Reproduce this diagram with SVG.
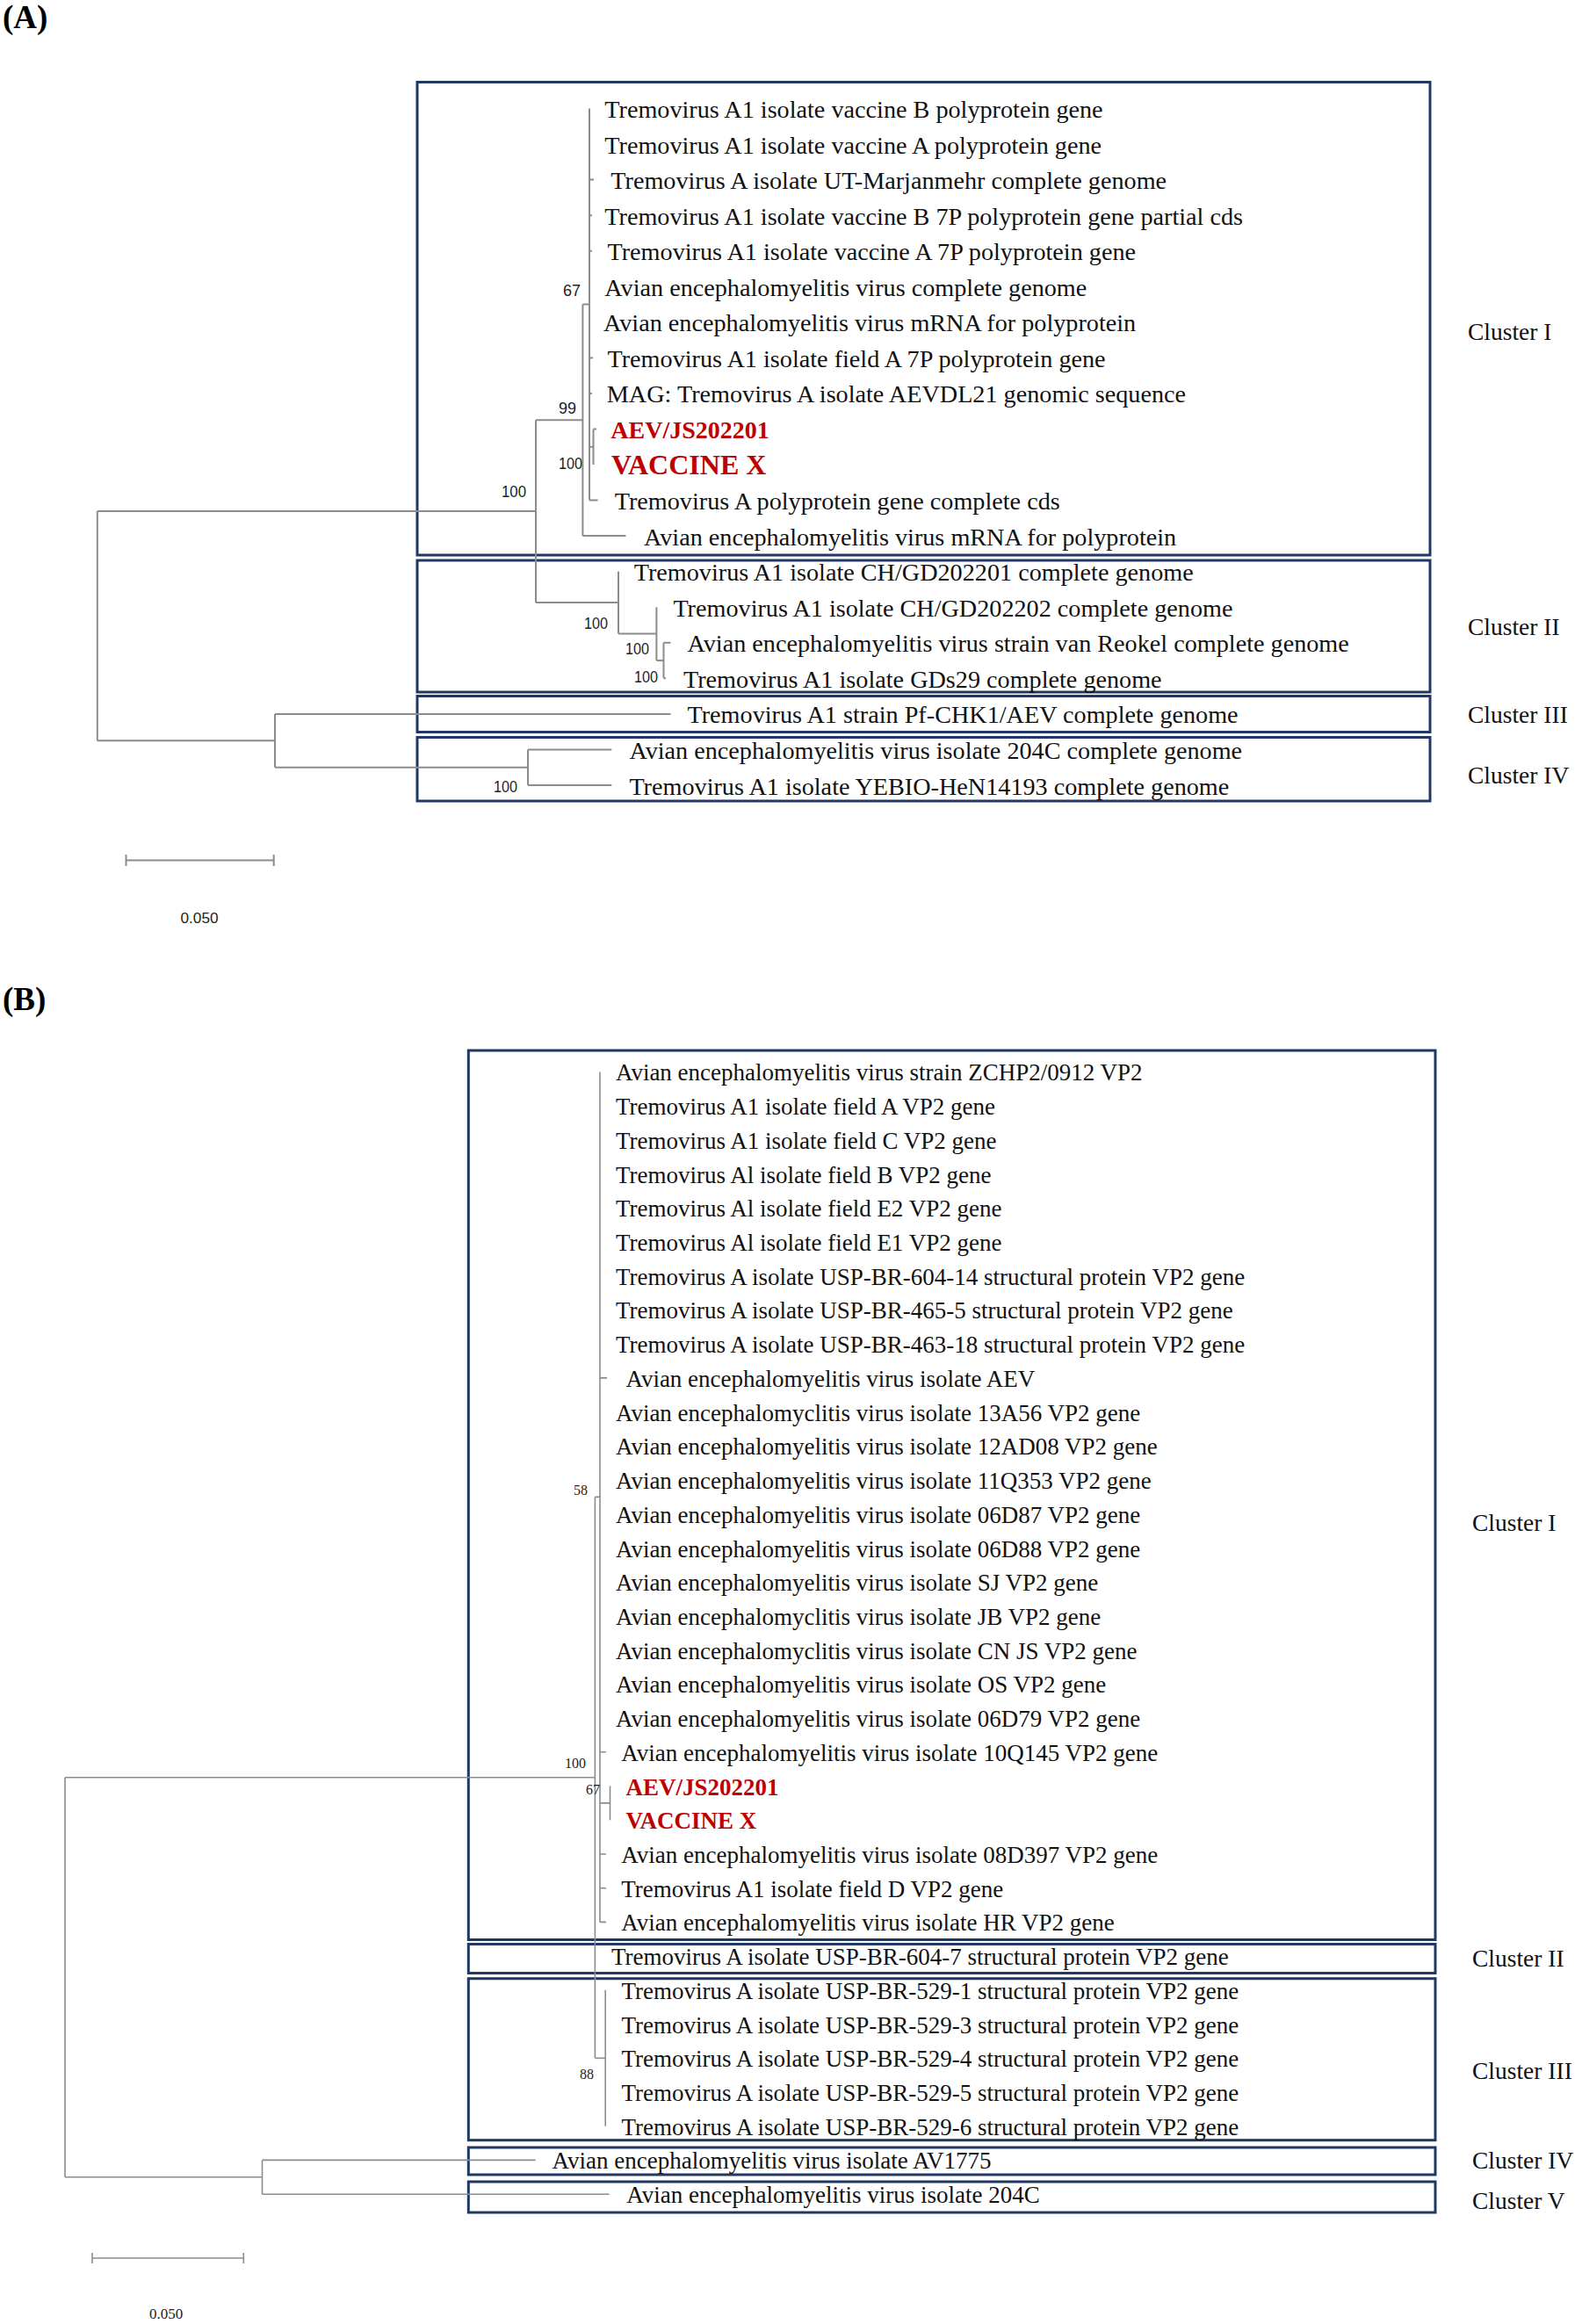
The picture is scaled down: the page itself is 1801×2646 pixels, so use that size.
<svg xmlns="http://www.w3.org/2000/svg" width="1801" height="2646" viewBox="0 0 1801 2646">
<style>
.bg{fill:#ffffff}
.panel{font-family:"Liberation Serif","Times New Roman",serif;font-weight:bold;font-size:37px;fill:#000}
.la{font-family:"Liberation Serif","Times New Roman",serif;font-size:28.2px;fill:#111}
.lb{font-family:"Liberation Serif","Times New Roman",serif;font-size:27px;fill:#111}
.reda{font-family:"Liberation Serif","Times New Roman",serif;font-weight:bold;font-size:28px;fill:#c00000}
.redv{font-family:"Liberation Serif","Times New Roman",serif;font-weight:bold;font-size:32px;fill:#c00000}
.redb{font-family:"Liberation Serif","Times New Roman",serif;font-weight:bold;font-size:27px;fill:#c00000}
.bsa{font-family:"Liberation Sans",Arial,sans-serif;font-size:18px;fill:#222}
.bsb{font-family:"Liberation Serif","Times New Roman",serif;font-size:16px;fill:#222}
.cl{font-family:"Liberation Serif","Times New Roman",serif;font-size:27.5px;fill:#111}
.box{fill:none;stroke:#1f3864;stroke-width:3}
.ta{fill:none;stroke:#8c8c8c;stroke-width:2}
.tb{fill:none;stroke:#8c8c8c;stroke-width:1.6}
.sc{font-family:"Liberation Sans",Arial,sans-serif;font-size:17px;fill:#222}
.scb{font-family:"Liberation Serif","Times New Roman",serif;font-size:17px;fill:#222}
</style>
<rect class="bg" x="0" y="0" width="1801" height="2646"/>

<g id="panel-labels">
<text class="panel" x="3" y="32">(A)</text>
<text class="panel" x="3" y="1150">(B)</text>
</g>

<!-- ================= PANEL A ================= -->
<g id="A-boxes">
<rect id="A-box-cluster-I" class="box" x="475" y="93.5" width="1153" height="538.5"/>
<rect id="A-box-cluster-II" class="box" x="475" y="638" width="1153" height="150"/>
<rect id="A-box-cluster-III" class="box" x="475" y="792.5" width="1153" height="41"/>
<rect id="A-box-cluster-IV" class="box" x="475" y="839.5" width="1153" height="72.5"/>
</g>

<g id="A-connectors">
<path class="ta" d="M110.8,582 V843.3 M110.8,582 H610 M110.8,843.3 H313"/>
<path class="ta" d="M610,478.3 V686 M610,478.3 H663.4 M610,686 H704"/>
<path class="ta" d="M663.4,346.5 V610.1 M663.4,346.5 H671 M663.4,610.1 H712.5"/>
<path class="ta" d="M671,123.5 V569.5 M671,204.6 H676 M671,245.2 H674 M671,285.7 H674 M671,407.4 H675 M671,447.9 H674 M671,569.5 H680.6"/>
<path class="ta" d="M671,508.8 H675.5 M675.5,488.5 V529 M675.5,488.5 H679"/>
<path class="ta" d="M704,650.7 V721.6 M704,721.6 H747.4"/>
<path class="ta" d="M747.4,691.2 V752 M747.4,752 H755.5"/>
<path class="ta" d="M755.5,731.8 V772.3 M755.5,731.8 H763.5 M755.5,772.3 H758"/>
<path class="ta" d="M313,812.9 V873.7 M313,812.9 H763.5 M313,873.7 H601"/>
<path class="ta" d="M601,853.4 V894 M601,853.4 H696.3 M601,894 H696.3"/>
</g>

<g id="A-bootstrap">
<text class="bsa" x="641" y="337">67</text>
<text class="bsa" x="636" y="471">99</text>
<text class="bsa" x="636" y="534" textLength="27" lengthAdjust="spacingAndGlyphs">100</text>
<text class="bsa" x="571" y="566" textLength="28" lengthAdjust="spacingAndGlyphs">100</text>
<text class="bsa" x="665" y="716" textLength="27" lengthAdjust="spacingAndGlyphs">100</text>
<text class="bsa" x="712" y="744.5" textLength="27" lengthAdjust="spacingAndGlyphs">100</text>
<text class="bsa" x="722" y="776.5" textLength="27" lengthAdjust="spacingAndGlyphs">100</text>
<text class="bsa" x="562" y="902" textLength="27" lengthAdjust="spacingAndGlyphs">100</text>
</g>

<g id="A-leaves">
<g id="A-leaf-01"><text class="la" x="688.3" y="134">Tremovirus A1 isolate vaccine B polyprotein gene</text></g>
<g id="A-leaf-02"><text class="la" x="688.3" y="174.6">Tremovirus A1 isolate vaccine A polyprotein gene</text></g>
<g id="A-leaf-03"><text class="la" x="695.3" y="215.1">Tremovirus A isolate UT-Marjanmehr complete genome</text></g>
<g id="A-leaf-04"><text class="la" x="688.3" y="255.7">Tremovirus A1 isolate vaccine B 7P polyprotein gene partial cds</text></g>
<g id="A-leaf-05"><text class="la" x="691.5" y="296.2">Tremovirus A1 isolate vaccine A 7P polyprotein gene</text></g>
<g id="A-leaf-06"><text class="la" x="688.3" y="336.8">Avian encephalomyelitis virus complete genome</text></g>
<g id="A-leaf-07"><text class="la" x="687" y="377.3">Avian encephalomyelitis virus mRNA for polyprotein</text></g>
<g id="A-leaf-08"><text class="la" x="691.5" y="417.9">Tremovirus A1 isolate field A 7P polyprotein gene</text></g>
<g id="A-leaf-09"><text class="la" x="690.8" y="458.4">MAG: Tremovirus A isolate AEVDL21 genomic sequence</text></g>
<g id="A-leaf-10"><text class="reda" x="695.3" y="499">AEV/JS202201</text></g>
<g id="A-leaf-11"><text class="redv" x="696" y="539.5">VACCINE X</text></g>
<g id="A-leaf-12"><text class="la" x="699.7" y="580">Tremovirus A polyprotein gene complete cds</text></g>
<g id="A-leaf-13"><text class="la" x="733" y="620.6">Avian encephalomyelitis virus mRNA for polyprotein</text></g>
<g id="A-leaf-14"><text class="la" x="721.7" y="661.2">Tremovirus A1 isolate CH/GD202201 complete genome</text></g>
<g id="A-leaf-15"><text class="la" x="766.4" y="701.7">Tremovirus A1 isolate CH/GD202202 complete genome</text></g>
<g id="A-leaf-16"><text class="la" x="782.5" y="742.3">Avian encephalomyelitis virus strain van Reokel complete genome</text></g>
<g id="A-leaf-17"><text class="la" x="778" y="782.8">Tremovirus A1 isolate GDs29 complete genome</text></g>
<g id="A-leaf-18"><text class="la" x="782.5" y="823.4">Tremovirus A1 strain Pf-CHK1/AEV complete genome</text></g>
<g id="A-leaf-19"><text class="la" x="716.4" y="863.9">Avian encephalomyelitis virus isolate 204C complete genome</text></g>
<g id="A-leaf-20"><text class="la" x="716.4" y="904.5">Tremovirus A1 isolate YEBIO-HeN14193 complete genome</text></g>
</g>

<g id="A-cluster-labels">
<text class="cl" x="1671" y="387">Cluster I</text>
<text class="cl" x="1671" y="723">Cluster II</text>
<text class="cl" x="1671" y="823">Cluster III</text>
<text class="cl" x="1671" y="892">Cluster IV</text>
</g>

<g id="A-scale">
<path class="ta" d="M143.5,979.6 H311.7 M143.5,973 V986 M311.7,973 V986"/>
<text class="sc" x="227" y="1051" text-anchor="middle" textLength="43" lengthAdjust="spacingAndGlyphs">0.050</text>
</g>

<!-- ================= PANEL B ================= -->
<g id="B-boxes">
<rect id="B-box-cluster-I" class="box" x="533.3" y="1196" width="1100.7" height="1012.5"/>
<rect id="B-box-cluster-II" class="box" x="533.3" y="2213.5" width="1100.7" height="33"/>
<rect id="B-box-cluster-III" class="box" x="533.3" y="2252.7" width="1100.7" height="184"/>
<rect id="B-box-cluster-IV" class="box" x="533.3" y="2445" width="1100.7" height="31"/>
<rect id="B-box-cluster-V" class="box" x="533.3" y="2484" width="1100.7" height="35"/>
</g>

<g id="B-connectors">
<path class="tb" d="M74,2023.8 V2478.8 M74,2023.8 H677.4 M74,2478.8 H298.5"/>
<path class="tb" d="M677.4,1704.4 V2343.3 M677.4,1704.4 H683 M677.4,2343.3 H689.2"/>
<path class="tb" d="M683,1220.4 V2188.4 M683,1568.9 H691 M683,1994.8 H690 M683,2111 H690 M683,2149.7 H690 M683,2188.4 H690"/>
<path class="tb" d="M683,2052.9 H694.5 M694.5,2033.5 V2072.2"/>
<path class="tb" d="M689.2,2265.8 V2420.7"/>
<path class="tb" d="M298.5,2459.4 V2498.2 M298.5,2459.4 H609.6 M298.5,2498.2 H693.5"/>
</g>

<g id="B-bootstrap">
<text class="bsb" x="669" y="1702" text-anchor="end">58</text>
<text class="bsb" x="667" y="2012.5" text-anchor="end">100</text>
<text class="bsb" x="667" y="2043">67</text>
<text class="bsb" x="676" y="2366.5" text-anchor="end">88</text>
</g>

<g id="B-leaves">
<g id="B-leaf-01"><text class="lb" x="700.9" y="1230.4">Avian encephalomyelitis virus strain ZCHP2/0912 VP2</text></g>
<g id="B-leaf-02"><text class="lb" x="700.9" y="1269.1">Tremovirus A1 isolate field A VP2 gene</text></g>
<g id="B-leaf-03"><text class="lb" x="700.9" y="1307.8">Tremovirus A1 isolate field C VP2 gene</text></g>
<g id="B-leaf-04"><text class="lb" x="700.9" y="1346.6">Tremovirus Al isolate field B VP2 gene</text></g>
<g id="B-leaf-05"><text class="lb" x="700.9" y="1385.3">Tremovirus Al isolate field E2 VP2 gene</text></g>
<g id="B-leaf-06"><text class="lb" x="700.9" y="1424">Tremovirus Al isolate field E1 VP2 gene</text></g>
<g id="B-leaf-07"><text class="lb" x="700.9" y="1462.7">Tremovirus A isolate USP-BR-604-14 structural protein VP2 gene</text></g>
<g id="B-leaf-08"><text class="lb" x="700.9" y="1501.4">Tremovirus A isolate USP-BR-465-5 structural protein VP2 gene</text></g>
<g id="B-leaf-09"><text class="lb" x="700.9" y="1540.2">Tremovirus A isolate USP-BR-463-18 structural protein VP2 gene</text></g>
<g id="B-leaf-10"><text class="lb" x="712.4" y="1578.9">Avian encephalomyelitis virus isolate AEV</text></g>
<g id="B-leaf-11"><text class="lb" x="700.9" y="1617.6">Avian encephalomyclitis virus isolate 13A56 VP2 gene</text></g>
<g id="B-leaf-12"><text class="lb" x="700.9" y="1656.3">Avian encephalomyelitis virus isolate 12AD08 VP2 gene</text></g>
<g id="B-leaf-13"><text class="lb" x="700.9" y="1695">Avian encephalomyelitis virus isolate 11Q353 VP2 gene</text></g>
<g id="B-leaf-14"><text class="lb" x="700.9" y="1733.8">Avian encephalomyelitis virus isolate 06D87 VP2 gene</text></g>
<g id="B-leaf-15"><text class="lb" x="700.9" y="1772.5">Avian encephalomyelitis virus isolate 06D88 VP2 gene</text></g>
<g id="B-leaf-16"><text class="lb" x="700.9" y="1811.2">Avian encephalomyelitis virus isolate SJ VP2 gene</text></g>
<g id="B-leaf-17"><text class="lb" x="700.9" y="1849.9">Avian encephalomyclitis virus isolate JB VP2 gene</text></g>
<g id="B-leaf-18"><text class="lb" x="700.9" y="1888.6">Avian encephalomyclitis virus isolate CN JS VP2 gene</text></g>
<g id="B-leaf-19"><text class="lb" x="700.9" y="1927.4">Avian encephalomyelitis virus isolate OS VP2 gene</text></g>
<g id="B-leaf-20"><text class="lb" x="700.9" y="1966.1">Avian encephalomyelitis virus isolate 06D79 VP2 gene</text></g>
<g id="B-leaf-21"><text class="lb" x="707.3" y="2004.8">Avian encephalomyelitis virus isolate 10Q145 VP2 gene</text></g>
<g id="B-leaf-22"><text class="redb" x="712.4" y="2043.5">AEV/JS202201</text></g>
<g id="B-leaf-23"><text class="redb" x="712.4" y="2082.2">VACCINE X</text></g>
<g id="B-leaf-24"><text class="lb" x="707.3" y="2121">Avian encephalomyelitis virus isolate 08D397 VP2 gene</text></g>
<g id="B-leaf-25"><text class="lb" x="707.3" y="2159.7">Tremovirus A1 isolate field D VP2 gene</text></g>
<g id="B-leaf-26"><text class="lb" x="707.3" y="2198.4">Avian encephalomyelitis virus isolate HR VP2 gene</text></g>
<g id="B-leaf-27"><text class="lb" x="695.9" y="2237.1">Tremovirus A isolate USP-BR-604-7 structural protein VP2 gene</text></g>
<g id="B-leaf-28"><text class="lb" x="707.5" y="2275.8">Tremovirus A isolate USP-BR-529-1 structural protein VP2 gene</text></g>
<g id="B-leaf-29"><text class="lb" x="707.5" y="2314.6">Tremovirus A isolate USP-BR-529-3 structural protein VP2 gene</text></g>
<g id="B-leaf-30"><text class="lb" x="707.5" y="2353.3">Tremovirus A isolate USP-BR-529-4 structural protein VP2 gene</text></g>
<g id="B-leaf-31"><text class="lb" x="707.5" y="2392">Tremovirus A isolate USP-BR-529-5 structural protein VP2 gene</text></g>
<g id="B-leaf-32"><text class="lb" x="707.5" y="2430.7">Tremovirus A isolate USP-BR-529-6 structural protein VP2 gene</text></g>
<g id="B-leaf-33"><text class="lb" x="628.6" y="2469.4">Avian encephalomyelitis virus isolate AV1775</text></g>
<g id="B-leaf-34"><text class="lb" x="713.3" y="2508.2">Avian encephalomyelitis virus isolate 204C</text></g>
</g>

<g id="B-cluster-labels">
<text class="cl" x="1676" y="1743">Cluster I</text>
<text class="cl" x="1676" y="2239">Cluster II</text>
<text class="cl" x="1676" y="2367">Cluster III</text>
<text class="cl" x="1676" y="2469">Cluster IV</text>
<text class="cl" x="1676" y="2515">Cluster V</text>
</g>

<g id="B-scale">
<path class="tb" d="M105,2571 H277.3 M105,2565 V2577 M277.3,2565 V2577"/>
<text class="scb" x="189" y="2640" text-anchor="middle">0.050</text>
</g>
</svg>
